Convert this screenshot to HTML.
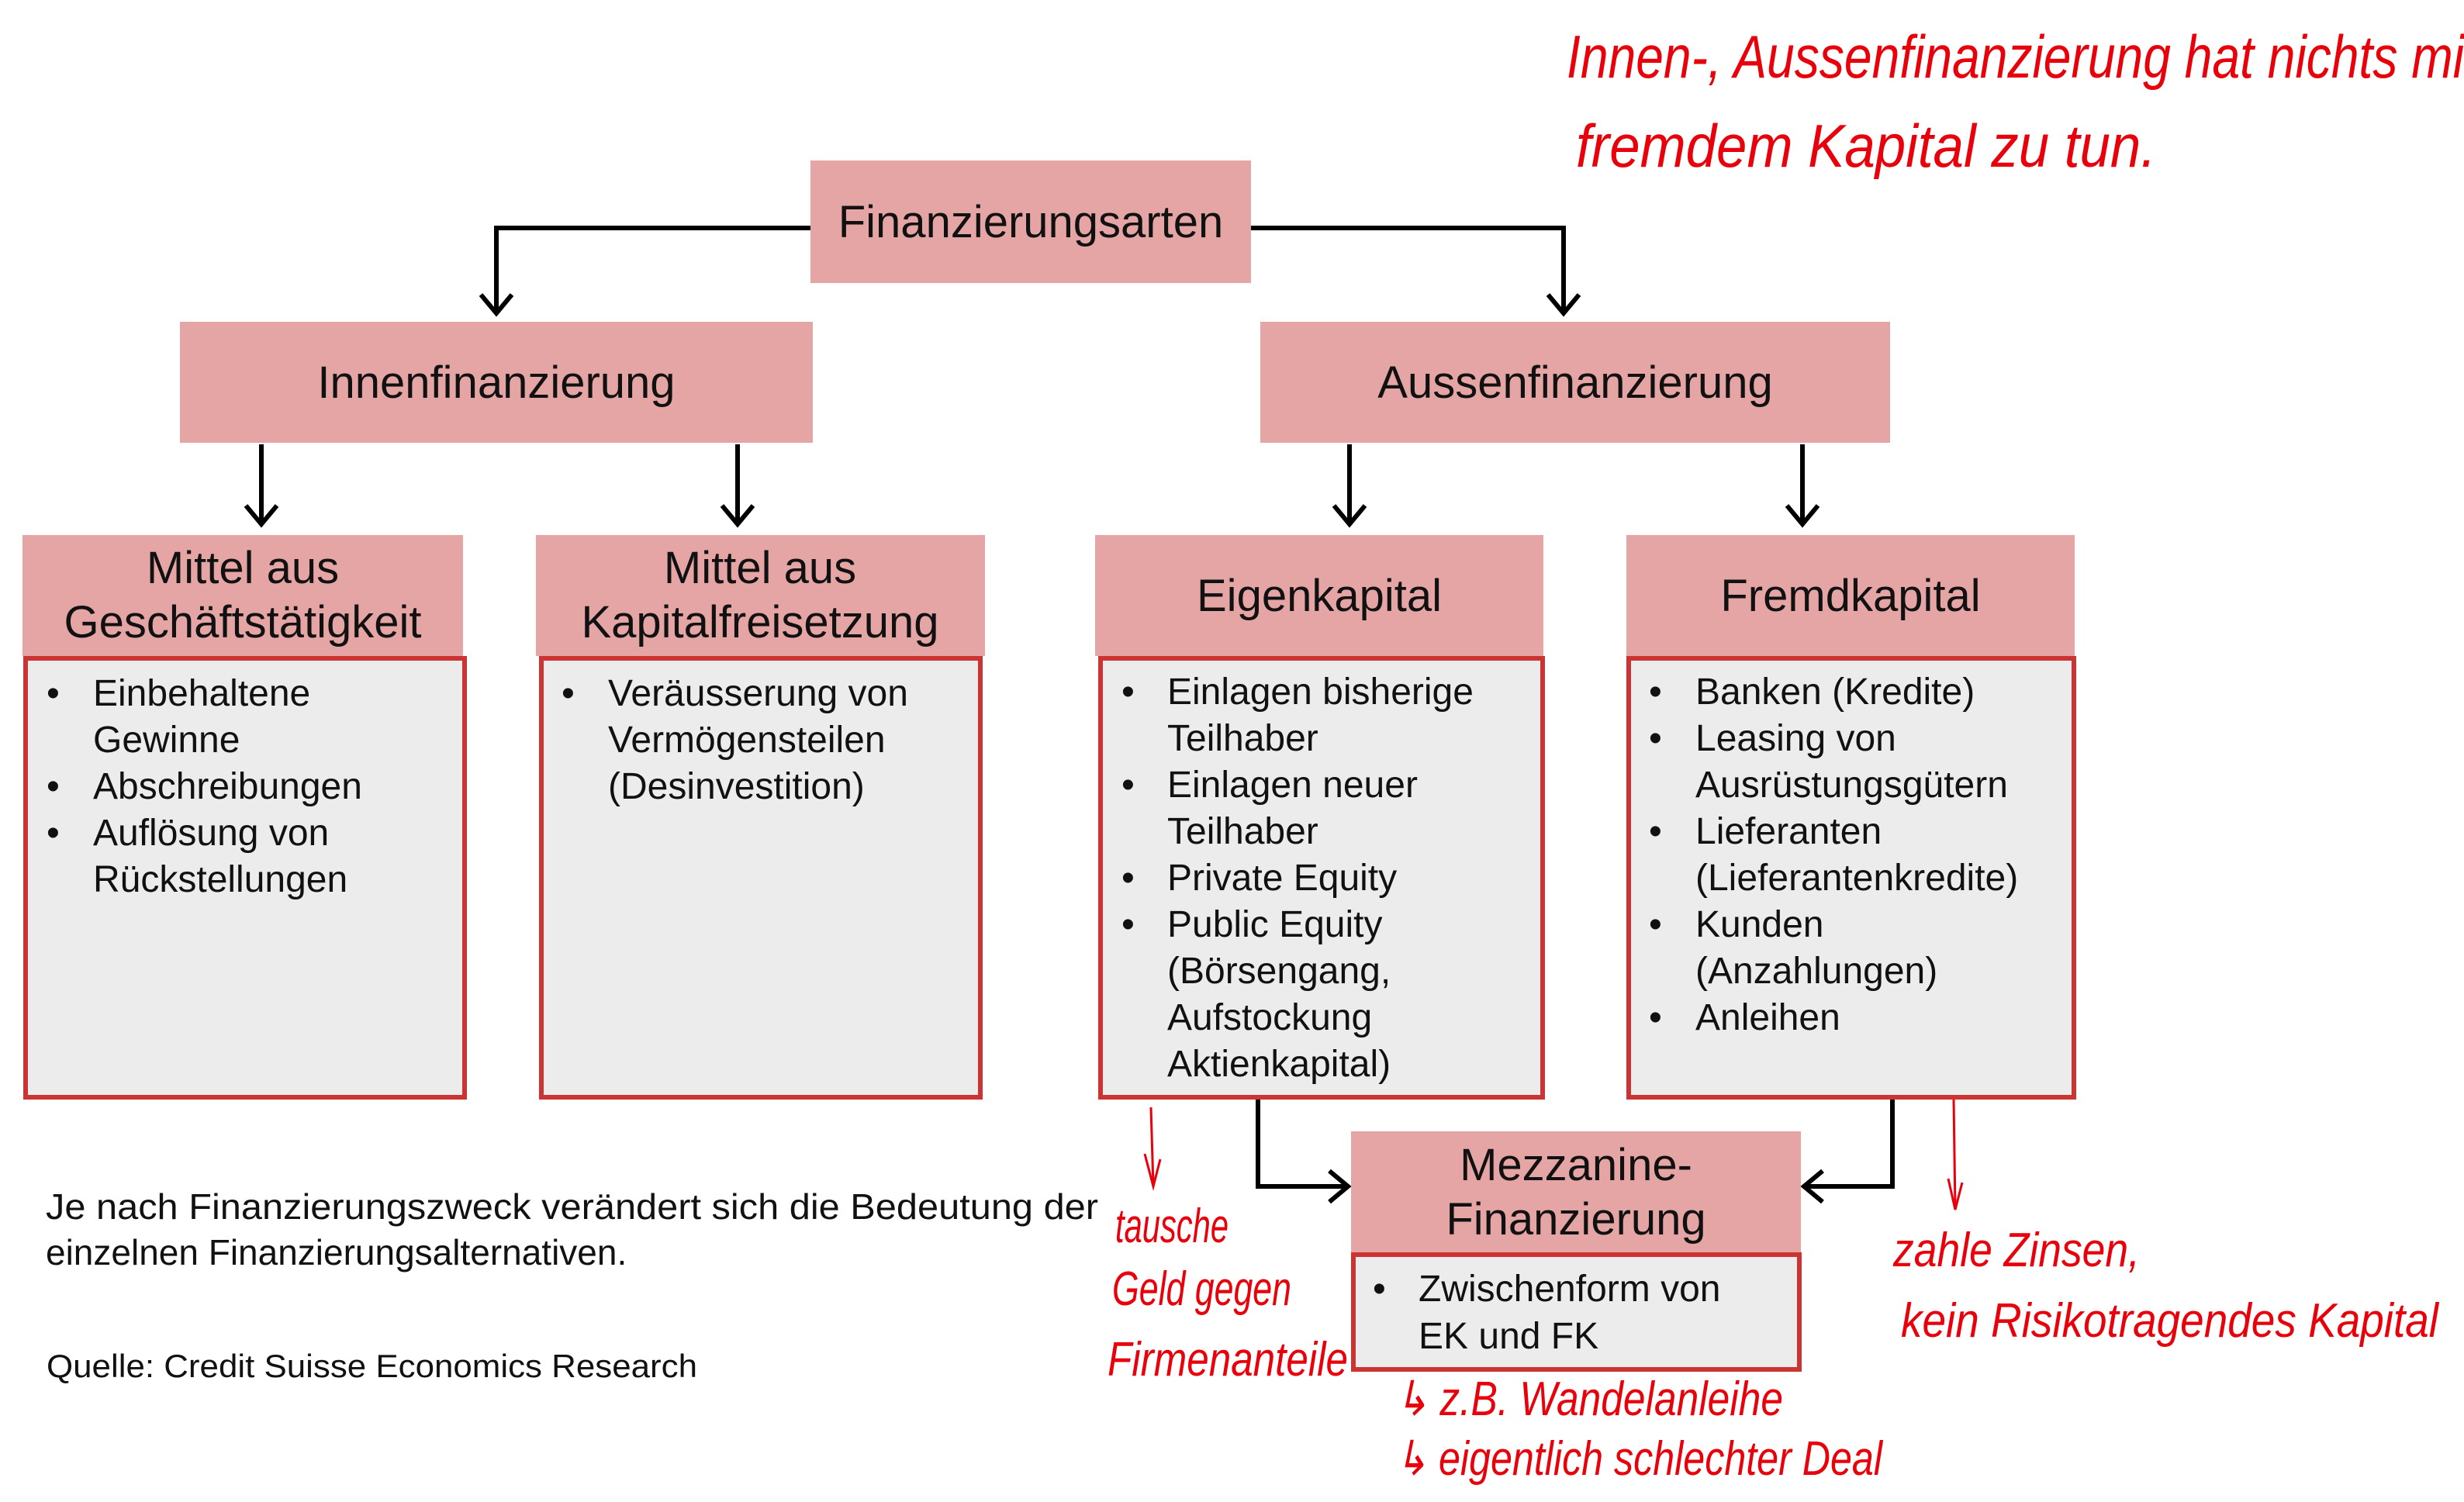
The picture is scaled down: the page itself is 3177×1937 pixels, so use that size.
<!DOCTYPE html>
<html><head><meta charset="utf-8"><style>
html,body{margin:0;padding:0;background:#fff;}
svg{display:block;}
.t{font-family:"Liberation Sans",sans-serif;fill:#111;}
.h{font-family:"Liberation Sans",sans-serif;fill:#e8000a;font-style:italic;}
</style></head><body>
<svg width="3177" height="1937" viewBox="0 0 3177 1937" xmlns="http://www.w3.org/2000/svg">
<defs>
<marker id="ah" markerWidth="10" markerHeight="10" refX="8" refY="5" orient="auto" markerUnits="userSpaceOnUse" viewBox="0 0 10 10">
</marker>
</defs>
<!-- connectors -->
<g stroke="#000" stroke-width="6" fill="none">
<polyline points="1045,294 640,294 640,404"/>
<polyline points="620,380 640,404 660,380"/>
<polyline points="1613,294 2016,294 2016,404"/>
<polyline points="1996,380 2016,404 2036,380"/>
<line x1="337" y1="573" x2="337" y2="676"/><polyline points="317,652 337,676 357,652"/>
<line x1="951" y1="573" x2="951" y2="676"/><polyline points="931,652 951,676 971,652"/>
<line x1="1740" y1="573" x2="1740" y2="676"/><polyline points="1720,652 1740,676 1760,652"/>
<line x1="2324" y1="573" x2="2324" y2="676"/><polyline points="2304,652 2324,676 2344,652"/>
<polyline points="1622,1415 1622,1530 1738,1530"/><polyline points="1714,1510 1738,1530 1714,1550"/>
<polyline points="2440,1417 2440,1530 2326,1530"/><polyline points="2350,1510 2326,1530 2350,1550"/>
</g>
<!-- header boxes -->
<g fill="#e6a5a5">
<rect x="1045" y="207" width="568" height="158"/>
<rect x="232" y="415" width="816" height="156"/>
<rect x="1625" y="415" width="812" height="156"/>
<rect x="29" y="690" width="568" height="156"/>
<rect x="691" y="690" width="579" height="156"/>
<rect x="1412" y="690" width="578" height="156"/>
<rect x="2097" y="690" width="578" height="156"/>
<rect x="1742" y="1459" width="580" height="157"/>
</g>
<!-- bodies -->
<g fill="#ececec" stroke="#cc3333" stroke-width="6">
<rect x="33" y="849" width="566" height="566"/>
<rect x="698" y="849" width="566" height="566"/>
<rect x="1419" y="849" width="570" height="566"/>
<rect x="2100" y="849" width="574" height="566"/>
<rect x="1745" y="1618" width="575" height="148"/>
</g>
<!-- header text -->
<g class="t" font-size="58" text-anchor="middle">
<text x="1329" y="306">Finanzierungsarten</text>
<text x="640" y="513">Innenfinanzierung</text>
<text x="2031" y="513">Aussenfinanzierung</text>
<text x="313" y="752">Mittel aus</text>
<text x="313" y="822">Geschäftstätigkeit</text>
<text x="980" y="752">Mittel aus</text>
<text x="980" y="822">Kapitalfreisetzung</text>
<text x="1701" y="788">Eigenkapital</text>
<text x="2386" y="788">Fremdkapital</text>
<text x="2032" y="1522">Mezzanine-</text>
<text x="2032" y="1592">Finanzierung</text>
</g>
<!-- body text -->
<g class="t" font-size="48">
<text x="60" y="910">•</text>
<text x="120" y="910">Einbehaltene</text>
<text x="120" y="970">Gewinne</text>
<text x="60" y="1030">•</text>
<text x="120" y="1030">Abschreibungen</text>
<text x="60" y="1090">•</text>
<text x="120" y="1090">Auflösung von</text>
<text x="120" y="1150">Rückstellungen</text>

<text x="724" y="910">•</text>
<text x="784" y="910">Veräusserung von</text>
<text x="784" y="970">Vermögensteilen</text>
<text x="784" y="1030">(Desinvestition)</text>

<text x="1446" y="908">•</text>
<text x="1505" y="908">Einlagen bisherige</text>
<text x="1505" y="968">Teilhaber</text>
<text x="1446" y="1028">•</text>
<text x="1505" y="1028">Einlagen neuer</text>
<text x="1505" y="1088">Teilhaber</text>
<text x="1446" y="1148">•</text>
<text x="1505" y="1148">Private Equity</text>
<text x="1446" y="1208">•</text>
<text x="1505" y="1208">Public Equity</text>
<text x="1505" y="1268">(Börsengang,</text>
<text x="1505" y="1328">Aufstockung</text>
<text x="1505" y="1388">Aktienkapital)</text>

<text x="2126" y="908">•</text>
<text x="2186" y="908">Banken (Kredite)</text>
<text x="2126" y="968">•</text>
<text x="2186" y="968">Leasing von</text>
<text x="2186" y="1028">Ausrüstungsgütern</text>
<text x="2126" y="1088">•</text>
<text x="2186" y="1088">Lieferanten</text>
<text x="2186" y="1148">(Lieferantenkredite)</text>
<text x="2126" y="1208">•</text>
<text x="2186" y="1208">Kunden</text>
<text x="2186" y="1268">(Anzahlungen)</text>
<text x="2126" y="1328">•</text>
<text x="2186" y="1328">Anleihen</text>

<text x="1770" y="1678">•</text>
<text x="1829" y="1678">Zwischenform von</text>
<text x="1829" y="1739">EK und FK</text>
</g>
<g class="t" font-size="46">
<text x="59" y="1572" textLength="1357" lengthAdjust="spacingAndGlyphs">Je nach Finanzierungszweck verändert sich die Bedeutung der</text>
<text x="59" y="1631">einzelnen Finanzierungsalternativen.</text>
</g>
<text class="t" x="60" y="1776" font-size="42" textLength="839" lengthAdjust="spacingAndGlyphs">Quelle: Credit Suisse Economics Research</text>
<!-- handwritten annotations -->
<g class="h" font-size="78" font-weight="normal">
<text x="2020" y="100" textLength="1157" lengthAdjust="spacingAndGlyphs">Innen-, Aussenfinanzierung hat nichts mi</text>
<text x="2032" y="215" textLength="748" lengthAdjust="spacingAndGlyphs">fremdem Kapital zu tun.</text>
</g>
<g class="h" font-size="62">
<text x="1438" y="1602" textLength="146" lengthAdjust="spacingAndGlyphs">tausche</text>
<text x="1434" y="1683" textLength="231" lengthAdjust="spacingAndGlyphs">Geld gegen</text>
<text x="1428" y="1774" textLength="310" lengthAdjust="spacingAndGlyphs">Firmenanteile</text>
<text x="2441" y="1633" textLength="318" lengthAdjust="spacingAndGlyphs">zahle Zinsen,</text>
<text x="2451" y="1724" textLength="693" lengthAdjust="spacingAndGlyphs">kein Risikotragendes Kapital</text>
<text x="1799" y="1825" textLength="500" lengthAdjust="spacingAndGlyphs">↳ z.B. Wandelanleihe</text>
<text x="1799" y="1902" textLength="628" lengthAdjust="spacingAndGlyphs">↳ eigentlich schlechter Deal</text>
</g>
<g stroke="#e8000a" stroke-width="3" fill="none">
<line x1="1484" y1="1428" x2="1487" y2="1530"/><polyline points="1476,1488 1487,1530 1496,1495"/>
<line x1="2519" y1="1418" x2="2521" y2="1560"/><polyline points="2512,1520 2521,1560 2530,1525"/>
</g>
</svg>
</body></html>
